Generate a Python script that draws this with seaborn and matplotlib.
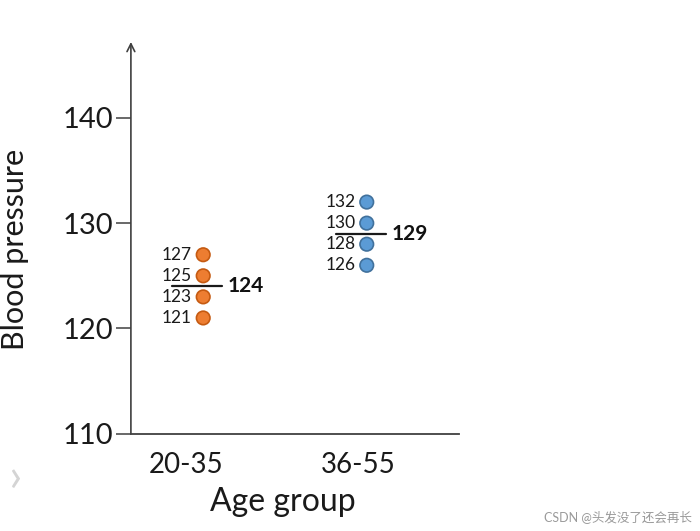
import numpy as np
import pandas as pd
import seaborn as sns
import matplotlib.pyplot as plt

# ================================
# Data
# ================================
groups = ["20-35", "36-55"]
young_bp = [127, 125, 123, 121]
older_bp = [132, 130, 128, 126]
group_means = [124, 129]
y_ticks = [110, 120, 130, 140]

colors = ["#ED7D31", "#5B9BD5"]
edges = ["#C55A11", "#41719C"]
dot_shift = [0.10, 0.05]

df = pd.DataFrame({
    "group": [groups[0]] * len(young_bp) + [groups[1]] * len(older_bp),
    "bp": young_bp + older_bp,
})
df["pos"] = df["group"].map({g: i for i, g in enumerate(groups)})
df["x"] = df["pos"] + df["pos"].map(lambda p: dot_shift[p])

sns.set_style("white")
plt.rcParams["font.family"] = ["Lato", "Noto Sans CJK SC", "DejaVu Sans"]

fig = plt.figure(figsize=(7, 5.31), dpi=100)
ax = fig.add_axes([0.187, 0.183, 0.469, 0.738])

sns.scatterplot(data=df, x="x", y="bp", hue="group", palette=colors,
                s=95, legend=False, ax=ax, zorder=3)
# edge colours per group
for coll in ax.collections:
    fc = coll.get_facecolors()
    ec = [edges[0] if np.allclose(c[:3], plt.matplotlib.colors.to_rgb(colors[0]), atol=0.02) else edges[1] for c in fc]
    coll.set_edgecolors(ec)
    coll.set_linewidth(1.2)

# value labels left of each dot
for _, r in df.iterrows():
    ax.annotate(str(r["bp"]), (r["x"], r["bp"]), xytext=(-8, 0),
                textcoords="offset points", ha="right", va="center",
                fontsize=12.5, color="#1a1a1a")

# mean lines and labels
for i, m in enumerate(group_means):
    cx = i + dot_shift[i]
    ax.plot([cx - 0.18, cx + 0.11], [m, m], color="#1a1a1a", lw=1.6, zorder=2)
    ax.annotate(str(m), (cx + 0.11, m), xytext=(4, 0), textcoords="offset points",
                ha="left", va="center", fontsize=15, fontweight="bold", color="#111111")

ax.set_xlim(-0.32, 1.587)
ax.set_ylim(110, 147.2)
ax.set_yticks(y_ticks)
ax.set_xticks(range(len(groups)))
ax.set_xticklabels(groups)

for s in ["top", "right", "left"]:
    ax.spines[s].set_visible(False)
ax.spines["bottom"].set_color("#404040")
ax.spines["bottom"].set_linewidth(1.3)

# y axis with arrow head
ax.annotate("", xy=(0, 1), xytext=(0, 0), xycoords="axes fraction",
            arrowprops=dict(arrowstyle="->", lw=1.2, color="#404040",
                            shrinkA=0, shrinkB=0, mutation_scale=14))

ax.tick_params(axis="y", direction="out", length=11, width=1.1,
               color="#404040", labelsize=21, pad=2, left=True)
ax.tick_params(axis="x", length=0, labelsize=20, pad=13)
for lab in ax.get_yticklabels() + ax.get_xticklabels():
    lab.set_color("#1a1a1a")

ax.set_xlabel("Age group", fontsize=23, color="#1a1a1a")
ax.set_ylabel("Blood pressure", fontsize=22, color="#1a1a1a")
ax.xaxis.set_label_coords(0.463, -0.135)
ax.yaxis.set_label_coords(-0.31, 0.47)

fig.text(0.013, 0.10, "\u203a", fontsize=34, color="#d4d4d4", ha="left", va="center")
fig.text(0.988, 0.015, "CSDN @头发没了还会再长", fontsize=9, color="#9a9a9a",
         ha="right", va="bottom")

fig.savefig("out.png", dpi=100)
